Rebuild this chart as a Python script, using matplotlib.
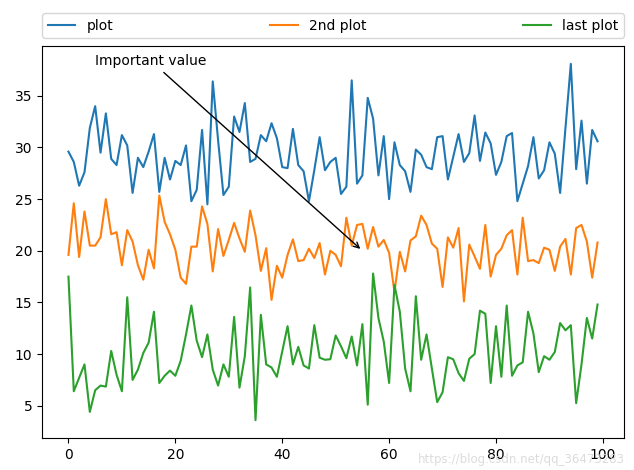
import matplotlib
matplotlib.use("Agg")
import matplotlib.pyplot as plt
import numpy as np

x = np.arange(100)

plot_vals = [29.6, 28.6, 26.3, 27.6, 31.9, 34.0, 29.5, 33.3, 28.9, 28.3,
             31.2, 30.2, 25.6, 29.0, 28.1, 29.6, 31.3, 25.7, 29.0, 26.9,
             28.7, 28.3, 30.2, 24.8, 25.9, 31.7, 24.5, 36.4, 30.7, 25.4,
             26.2, 33.0, 31.5, 34.3, 28.6, 28.9, 31.2, 30.6, 32.35, 30.9,
             28.1, 28.0, 31.8, 28.3, 27.7, 24.8, 27.8, 31.0, 27.8, 28.6,
             29.0, 25.5, 26.2, 36.5, 26.5, 27.3, 34.8, 32.8, 27.3, 31.1,
             25.0, 30.5, 28.3, 27.7, 25.7, 29.8, 29.3, 28.1, 27.9, 31.0,
             31.1, 26.9, 29.1, 31.3, 28.6, 29.45, 33.1, 28.7, 31.45, 30.4,
             27.35, 28.6, 31.1, 31.4, 24.8, 26.5, 28.2, 31.0, 27.0, 27.8,
             30.5, 29.4, 25.6, 31.9, 38.1, 27.9, 32.6, 26.5, 31.7, 30.6]

second_vals = [19.6, 24.6, 19.4, 23.8, 20.5, 20.5, 21.3, 25.0, 21.6, 21.8,
               18.6, 22.0, 20.9, 18.6, 17.2, 20.1, 18.3, 25.35, 22.8, 21.6,
               20.1, 17.4, 16.8, 20.4, 20.4, 24.3, 22.6, 18.0, 22.1, 19.5,
               21.05, 22.7, 21.2, 19.9, 23.9, 21.5, 18.05, 20.25, 15.25, 18.55,
               17.4, 19.6, 21.1, 19.0, 19.1, 20.2, 19.3, 20.75, 17.7, 20.0,
               19.6, 18.5, 23.2, 20.5, 22.5, 22.6, 20.2, 22.3, 20.4, 21.05,
               19.8, 16.0, 19.9, 18.0, 21.0, 21.4, 23.4, 22.5, 20.7, 20.2,
               16.5, 21.3, 20.3, 22.2, 15.1, 20.6, 19.45, 18.25, 22.5, 17.5,
               19.6, 20.2, 21.5, 22.0, 17.7, 23.2, 19.0, 19.1, 18.8, 20.3,
               20.1, 18.05, 20.4, 21.15, 17.7, 22.2, 22.5, 20.9, 17.4, 20.8]

last_vals = [17.5, 6.4, 7.7, 9.0, 4.4, 6.5, 6.95, 6.85, 10.3, 8.0,
             6.4, 15.5, 7.5, 8.5, 10.1, 11.1, 14.1, 7.2, 7.9, 8.4,
             7.9, 9.35, 11.9, 14.7, 11.3, 9.7, 11.9, 8.5, 6.95, 9.0,
             7.8, 13.6, 6.75, 9.8, 16.45, 3.6, 13.8, 9.0, 8.7, 7.8,
             10.25, 12.7, 9.0, 10.7, 8.9, 8.6, 12.8, 9.65, 9.45, 9.5,
             11.8, 10.75, 9.6, 11.7, 8.9, 12.9, 5.1, 17.8, 13.5, 11.2,
             7.2, 16.7, 14.1, 8.6, 6.4, 15.6, 9.45, 11.9, 8.6, 5.35,
             6.3, 9.7, 9.5, 8.15, 7.4, 9.55, 10.0, 14.2, 13.9, 7.2,
             12.7, 7.8, 14.7, 7.9, 8.9, 9.2, 14.1, 12.0, 8.25, 9.8,
             9.45, 10.2, 13.0, 12.3, 12.8, 5.25, 9.0, 13.5, 11.5, 14.8]

labels = ["plot", "2nd plot", "last plot"]

fig = plt.figure(figsize=(6.34, 4.70), dpi=100)
ax = fig.add_axes([42/634, 1 - 438/470, (624-42)/634, (438-46)/470])
ax.plot(x, plot_vals, label=labels[0])
ax.plot(x, second_vals, label=labels[1])
ax.plot(x, last_vals, label=labels[2])

ax.legend(bbox_to_anchor=(0., 1.02, 1., .102), loc='lower left',
          ncol=3, mode="expand", borderaxespad=0.)

ax.annotate("Important value", xy=(55, 20), xycoords='data',
            xytext=(5, 38), arrowprops=dict(arrowstyle="->"))

fig.text(0.985, 0.022, "https://blog.csdn.net/qq_36473283", ha='right',
         va='center', fontsize=8.5, color='#d8d8d8', alpha=0.9)

fig.savefig("out.png", dpi=100)
